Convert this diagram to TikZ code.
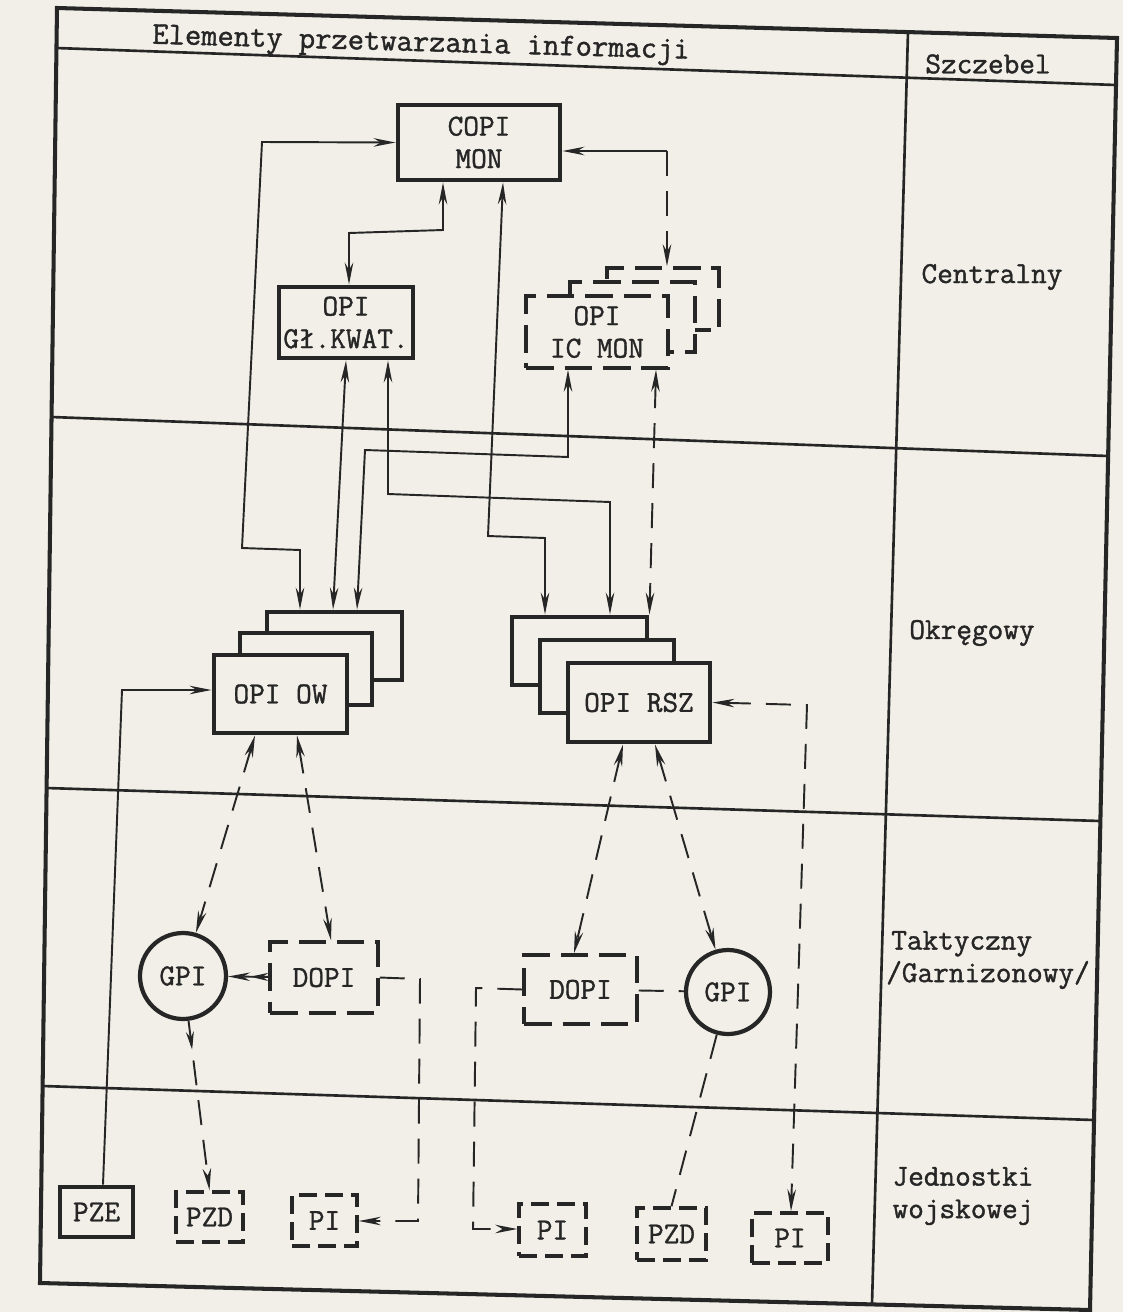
\documentclass[tikz,border=0pt]{standalone}
\usepackage{fontspec}
\setmonofont{Latin Modern Mono}[FakeBold=1.3]
\usetikzlibrary{arrows.meta,decorations.markings}
\definecolor{paper}{RGB}{241,239,231}
\definecolor{ink}{RGB}{38,38,38}
\begin{document}
\begin{tikzpicture}[x=0.02cm,y=-0.02cm,
  font=\fontsize{17.3}{18.5}\selectfont\ttfamily,
  every node/.style={text=ink},
  >={Stealth[length=4.4mm,width=1.7mm]},
  tbox/.style={draw=ink, line width=2.8pt, fill=paper, inner sep=0pt, align=center},
  dbox/.style={draw=ink, line width=2pt, dash pattern=on 5.5mm off 2.2mm, fill=paper, inner sep=0pt, align=center},
  sbox/.style={draw=ink, line width=2pt, dash pattern=on 3.6mm off 1.6mm, fill=paper, inner sep=0pt, align=center},
  circ/.style={circle, draw=ink, line width=2.4pt, fill=paper, inner sep=0pt, minimum size=17.2mm},
  conn/.style={draw=ink, line width=1.1pt},
  dconn/.style={conn, dash pattern=on 5mm off 3mm},
  sepline/.style={draw=ink, line width=1.5pt},
  midtip/.style={postaction={decorate}, decoration={markings,
      mark=at position #1 with {\arrow{Stealth[length=3.6mm,width=1.6mm]}}}},
  lab/.style={inner sep=0pt}]
\useasboundingbox (0,0) rectangle (1123,1312);
\fill[paper] (0,0) rectangle (1123,1312);

% frame and table lines
\draw[ink, line width=2.3pt] (57,8) -- (1117,38) -- (1090,1310) -- (40,1283) -- cycle;
\draw[sepline] (56,48) -- (1116,85);
\draw[sepline] (908,32) -- (872,1304);
\draw[sepline] (51.5,417) -- (1108,456);
\draw[sepline] (46.6,788) -- (1100,821);
\draw[sepline] (42.6,1086) -- (1094,1120);

% labels
\node[lab, rotate=-1.6, font=\fontsize{18}{19}\selectfont\ttfamily] (lhead) at (421,45) {Elementy przetwarzania informacji};
\node[lab] (lszc) at (988,64) {Szczebel};
\node[lab] (lcen) at (992,277) {Centralny};
\node[lab] (lokr) at (972,633) {Okręgowy};
\node[lab, align=left] (ltak) at (988,960) {\hspace{1mm}Taktyczny\\/Garnizonowy/};
\node[lab, align=left] (ljed) at (963,1196) {Jednostki\\wojskowej};

% central level
\node[tbox, minimum width=32.4mm, minimum height=15mm] (copi) at (479,142.5) {COPI\\MON};
\node[tbox, minimum width=26.8mm, minimum height=14.2mm] (glk) at (346,322.5) {OPI\\Gł.KWAT.};
\node[dbox, minimum width=22.4mm, minimum height=12.4mm] (icback) at (663,299) {};
\node[dbox, minimum width=25mm, minimum height=14mm] (icmid) at (632.5,317) {};
\node[dbox, minimum width=28.4mm, minimum height=14.4mm] (icfront) at (597,332) {OPI\\IC MON};

% district level
\node[tbox, minimum width=27mm, minimum height=13.6mm] (owback) at (334.5,646) {};
\node[tbox, minimum width=26.4mm, minimum height=14.4mm] (owmid) at (306,669) {};
\node[tbox, minimum width=26.6mm, minimum height=15.6mm] (owfront) at (280.5,694) {OPI OW};
\node[tbox, minimum width=27mm, minimum height=13.6mm] (rszback) at (579.5,651) {};
\node[tbox, minimum width=26.8mm, minimum height=14.6mm] (rszmid) at (607,676.5) {};
\node[tbox, minimum width=28.4mm, minimum height=15.8mm] (rszfront) at (639,702.5) {OPI RSZ};

% tactical level
\node[circ] (gpi1) at (183,976) {GPI};
\node[circ, minimum size=16.8mm] (gpi2) at (728,992) {GPI};
\node[dbox, minimum width=21.6mm, minimum height=14.2mm] (dopi1) at (324,977.5) {DOPI};
\node[dbox, minimum width=22.6mm, minimum height=13.8mm] (dopi2) at (580.5,989.5) {DOPI};

% units
\node[tbox, minimum width=14.6mm, minimum height=10mm] (pze) at (96.5,1212) {PZE};
\node[sbox, minimum width=13.4mm, minimum height=10mm] (pzd1) at (209.5,1217) {PZD};
\node[sbox, minimum width=13mm, minimum height=10.2mm] (pi1) at (324.5,1220.5) {PI};
\node[sbox, minimum width=13.4mm, minimum height=10.4mm] (pi2) at (552.5,1230) {PI};
\node[sbox, minimum width=13.8mm, minimum height=10.4mm] (pzd2) at (671.5,1234) {PZD};
\node[sbox, minimum width=15.2mm, minimum height=10mm] (pi3) at (790,1238) {PI};

% helper coordinates
\coordinate (a1) at (262,142);
\coordinate (a2) at (242,548);
\coordinate (a3) at (300,550);
\coordinate (b1) at (443,230);
\coordinate (b2) at (349,233);
\coordinate (c0) at (503,0);
\coordinate (c1) at (488,536);
\coordinate (c2) at (545,538);
\coordinate (d1) at (667,151);
\coordinate (e1) at (568,457);
\coordinate (e2) at (365,450);
\coordinate (e3) at (357,0);
\coordinate (f1) at (346,0);
\coordinate (f2) at (333,0);
\coordinate (g1) at (388,494);
\coordinate (g2) at (610,502);
\coordinate (h1) at (656,0);
\coordinate (i0) at (103,0);
\coordinate (i1) at (122,690);
\coordinate (j1) at (255,0);
\coordinate (k1) at (297,0);
\coordinate (k2) at (331,0);
\coordinate (n1) at (420,979);
\coordinate (n2) at (418,1221);
\coordinate (o1) at (623,0);
\coordinate (o2) at (574,0);
\coordinate (p1) at (655,0);
\coordinate (q1) at (807,705);
\coordinate (q2) at (791,0);
\coordinate (s1) at (476,988);
\coordinate (s2) at (473,1229);

% connectors
\draw[conn,<->] (copi.west) -- (a1) -- (a2) -- (a3) -- (a3 |- owback.north);
\draw[conn,<->] (b1 |- copi.south) -- (b1) -- (b2) -- (b2 |- glk.north);
\draw[conn,<->] (c0 |- copi.south) -- (c1) -- (c2) -- (c2 |- rszback.north);
\draw[conn,<-] (d1 -| copi.east) -- (d1);
\draw[dconn,->] (d1) -- (d1 |- icback.north);
\draw[conn,<->] (e1 |- icfront.south) -- (e1) -- (e2) -- (e3 |- owback.north);
\draw[conn,<->] (f1 |- glk.south) -- (f2 |- owback.north);
\draw[conn,<->] (g1 |- glk.south) -- (g1) -- (g2) -- (g2 |- rszback.north);
\draw[dconn,<->] (h1 |- icfront.south) -- (rszback.north east);
\draw[conn,->] (i0 |- pze.north) -- (i1) -- (i1 -| owfront.west);
\draw[dconn,<->] (j1 |- owfront.south) -- (gpi1);
\draw[dconn,<->] (k1 |- owfront.south) -- (k2 |- dopi1.north);
\draw[dconn,->,midtip=0.45] (dopi1) -- (gpi1);
\draw[dconn,->,midtip=0.17] (gpi1) -- (pzd1.north);
\draw[dconn,->] (dopi1.east) -- (n1) -- (n2) -- (n2 -| pi1.east);
\draw[dconn,<->] (o1 |- rszfront.south) -- (o2 |- dopi2.north);
\draw[dconn,<->] (p1 |- rszfront.south) -- (gpi2);
\draw[dconn,<->] (rszfront.east) -- (q1) -- (q2 |- pi3.north);
\draw[dconn] (dopi2) -- (gpi2);
\draw[dconn,->] (dopi2.west) -- (s1) -- (s2) -- (s2 -| pi2.west);
\draw[dconn] (gpi2) -- (pzd2.north);
\end{tikzpicture}
\end{document}
